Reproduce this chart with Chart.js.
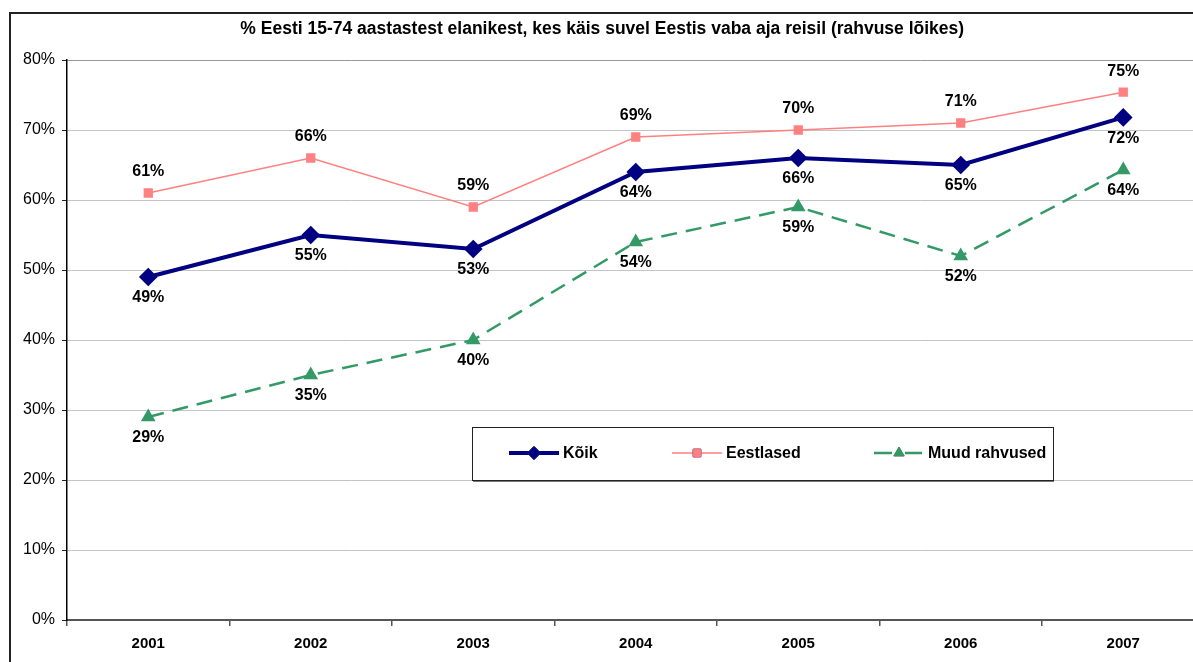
<!DOCTYPE html>
<html>
<head>
<meta charset="utf-8">
<script src="https://cdn.jsdelivr.net/npm/chart.js@4.4.1/dist/chart.umd.min.js"></script>
<style>
  html, body { margin: 0; padding: 0; background: #fff; overflow: hidden; }
  #wrap { position: relative; width: 1215px; height: 662px; }
  #frame { position: absolute; left: 9px; top: 12px; width: 1200px; height: 700px;
           border: 2px solid #222; box-sizing: border-box; pointer-events: none; }
  canvas { display: block; }
</style>
</head>
<body>
<div id="wrap">
  <canvas id="chart" width="1215" height="662"></canvas>
  <div id="frame"></div>
</div>
<script>
const years = ['2001', '2002', '2003', '2004', '2005', '2006', '2007'];
const koik = [49, 55, 53, 64, 66, 65, 71.8];
const eestlased = [61, 66, 59, 69, 70, 71, 75.4];
const muud = [29, 35, 40, 54, 59, 52, 64.3];
const yTicks = [0, 10, 20, 30, 40, 50, 60, 70, 80];

const titleText = '% Eesti 15-74 aastastest elanikest, kes käis suvel Eestis vaba aja reisil (rahvuse lõikes)';
const FONT = '"Liberation Sans", Arial, Helvetica, sans-serif';

// labels under/over each point
const pointLabels = {
    id: 'pointLabels',
    afterDatasetsDraw(chart) {
        const ctx = chart.ctx;
        ctx.save();
        ctx.font = 'bold 16px ' + FONT;
        ctx.fillStyle = '#000';
        ctx.textAlign = 'center';
        ctx.textBaseline = 'middle';
        chart.data.datasets.forEach((ds, i) => {
            const meta = chart.getDatasetMeta(i);
            meta.data.forEach((pt, j) => {
                const off = ds.labelAbove ? -21 : 21;
                ctx.fillText(Math.round(ds.data[j]) + '%', pt.x, pt.y + off);
            });
        });
        ctx.restore();
    }
};

// legend box inside the plot area
const boxLegend = {
    id: 'boxLegend',
    afterDraw(chart) {
        const ctx = chart.ctx;
        const x0 = 472, y0 = 427, w = 581, h = 53;
        ctx.save();
        ctx.fillStyle = '#fff';
        ctx.fillRect(x0, y0, w, h);
        ctx.strokeStyle = '#777';
        ctx.lineWidth = 2;
        ctx.beginPath();
        ctx.moveTo(x0 + 1, y0 + h + 1);
        ctx.lineTo(x0 + w + 1, y0 + h + 1);
        ctx.stroke();
        ctx.strokeStyle = '#222';
        ctx.lineWidth = 1;
        ctx.strokeRect(x0 + 0.5, y0 + 0.5, w, h);

        const cy = y0 + 26;
        const starts = [509, 672, 874];
        ctx.font = 'bold 16px ' + FONT;
        ctx.textBaseline = 'middle';
        ctx.textAlign = 'left';
        chart.data.datasets.forEach((ds, i) => {
            const sx = starts[i];
            ctx.save();
            ctx.strokeStyle = ds.borderColor;
            ctx.lineWidth = ds.borderWidth;
            ctx.beginPath();
            if (ds.borderDash && ds.borderDash.length) {
                ctx.moveTo(sx, cy); ctx.lineTo(sx + 18, cy);
                ctx.moveTo(sx + 31, cy); ctx.lineTo(sx + 48, cy);
            } else {
                ctx.moveTo(sx, cy); ctx.lineTo(sx + 50, cy);
            }
            ctx.stroke();
            ctx.restore();
            Chart.helpers.drawPoint(ctx, {
                pointStyle: ds.pointStyle,
                radius: ds.pointRadius,
                borderWidth: 1,
                rotation: 0
            }, sx + 25, cy);
            ctx.fillStyle = ds.pointBackgroundColor;
            ctx.strokeStyle = ds.pointBorderColor;
            ctx.lineWidth = 1;
            ctx.fill();
            ctx.stroke();
            ctx.fillStyle = '#000';
            ctx.fillText(ds.label, sx + 54, cy + 1);
        });
        ctx.restore();
    }
};

const ctx = document.getElementById('chart').getContext('2d');
new Chart(ctx, {
    type: 'line',
    data: {
        labels: years,
        datasets: [{
            label: 'Kõik',
            data: koik,
            borderColor: '#000080',
            borderWidth: 4,
            pointStyle: 'rectRot',
            pointRadius: 6.5,
            pointBackgroundColor: '#000080',
            pointBorderColor: '#000080',
            labelAbove: false,
            order: 0
        }, {
            label: 'Eestlased',
            data: eestlased,
            borderColor: '#ff8080',
            borderWidth: 1.5,
            pointStyle: 'rect',
            pointRadius: 5.5,
            pointBackgroundColor: '#ff8080',
            pointBorderColor: '#ff8080',
            labelAbove: true,
            order: 1
        }, {
            label: 'Muud rahvused',
            data: muud,
            borderColor: '#339966',
            borderWidth: 2.5,
            borderDash: [16, 9],
            pointStyle: 'triangle',
            pointRadius: 6,
            pointBackgroundColor: '#339966',
            pointBorderColor: '#339966',
            labelAbove: false,
            order: 2
        }]
    },
    options: {
        responsive: false,
        animation: false,
        layout: { padding: { left: 0, right: 10.5, top: 0, bottom: 0 } },
        elements: { line: { tension: 0 }, point: { borderWidth: 1 } },
        scales: {
            x: {
                offset: true,
                grid: { offset: true, drawOnChartArea: false, tickLength: 6, color: '#555', lineWidth: 1.5 },
                border: { color: '#555', width: 2 },
                ticks: { color: '#000', font: { family: FONT, size: 15, weight: 'bold' }, padding: 9, maxRotation: 0, autoSkip: false },
                afterFit(scale) { scale.height = 42; }
            },
            y: {
                min: 0,
                max: 80,
                afterBuildTicks(scale) { scale.ticks = yTicks.map(v => ({ value: v })); },
                grid: { color: (c) => c.tick && c.tick.value === 80 ? '#999' : '#c4c4c4', tickColor: '#222', tickLength: 5, lineWidth: 1 },
                border: { color: '#000', width: 1.5 },
                ticks: { color: '#000', font: { family: FONT, size: 16 }, padding: 7, callback: v => v + '%' },
                afterFit(scale) { scale.width = 67; }
            }
        },
        plugins: {
            legend: { display: false },
            tooltip: { enabled: false },
            title: {
                display: true,
                text: titleText,
                color: '#000',
                font: { family: FONT, size: 17.5, weight: 'bold', lineHeight: 1.2 },
                padding: { top: 19, bottom: 20 }
            }
        }
    },
    plugins: [pointLabels, boxLegend]
});
</script>
</body>
</html>
